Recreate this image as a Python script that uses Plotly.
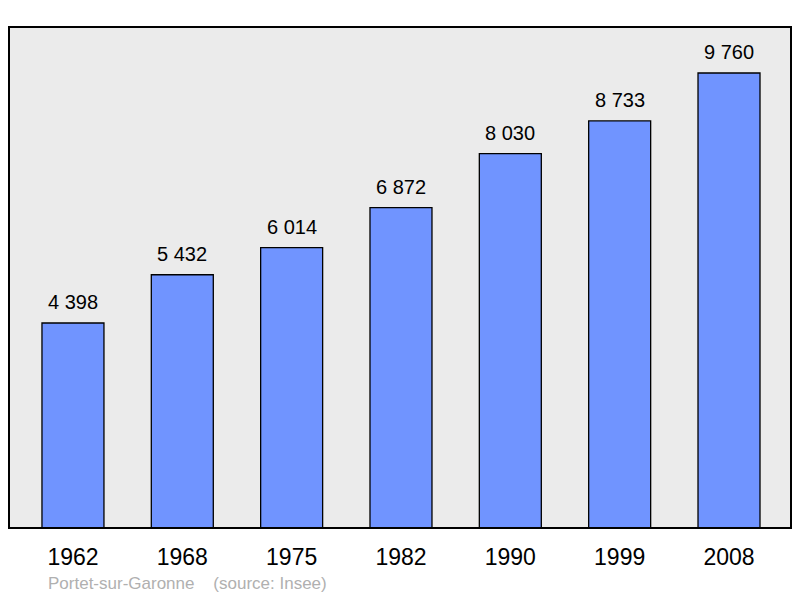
import plotly.graph_objects as go

years = ["1962", "1968", "1975", "1982", "1990", "1999", "2008"]
population = [4398, 5432, 6014, 6872, 8030, 8733, 9760]
labels = ["4 398", "5 432", "6 014", "6 872", "8 030", "8 733", "9 760"]

xs = list(range(len(years)))
FONT = "Liberation Sans, Arial, sans-serif"

fig = go.Figure()
fig.add_trace(go.Bar(
    x=xs, y=population, width=0.567,
    marker=dict(color="#7094ff", line=dict(color="#000000", width=1.3)),
    hoverinfo="skip",
))

for x, y, t in zip(xs, population, labels):
    fig.add_annotation(x=x, y=y, text=t, showarrow=False, yanchor="bottom",
                       yshift=8, font=dict(size=20, color="#000000", family=FONT))

fig.add_shape(type="rect", xref="paper", yref="paper", x0=0, y0=0, x1=1, y1=1,
              line=dict(color="#000000", width=2), layer="above")

fig.add_annotation(xref="paper", yref="paper", x=(46 - 9) / 782, y=-55 / 501,
                   xanchor="left", yanchor="middle", showarrow=False,
                   text="Portet-sur-Garonne&nbsp;&nbsp;&nbsp;&nbsp;(source: Insee)",
                   font=dict(size=17, color="#b0b0b0", family=FONT))

fig.update_layout(
    width=800, height=598,
    margin=dict(l=9, r=9, t=27, b=70),
    paper_bgcolor="#ffffff",
    plot_bgcolor="#ebebeb",
    showlegend=False,
    font=dict(family=FONT),
    xaxis=dict(range=[-0.585, 6.567], tickvals=xs, ticktext=years,
               showgrid=False, zeroline=False, showline=False, ticks="",
               tickfont=dict(size=23, color="#000000"), ticklabelstandoff=13),
    yaxis=dict(range=[0, 10747], showgrid=False, zeroline=False,
               showticklabels=False, showline=False, ticks=""),
)

fig.write_html("out.html", config={"displayModeBar": False},
               post_script="document.body.style.margin='0';document.body.style.overflow='hidden';")
